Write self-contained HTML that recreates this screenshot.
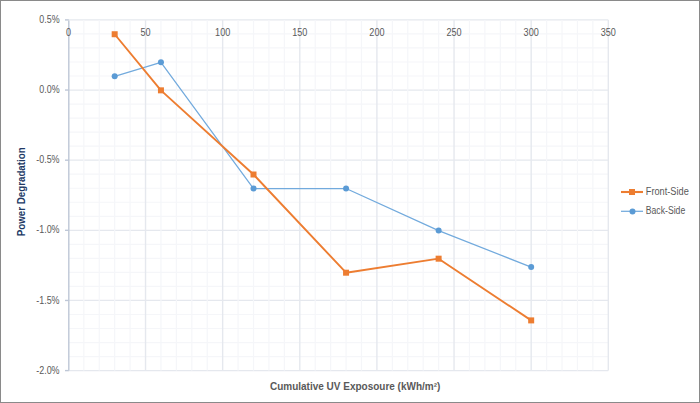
<!DOCTYPE html>
<html><head><meta charset="utf-8"><style>
html,body{margin:0;padding:0;background:#fff;}
body{width:700px;height:403px;overflow:hidden;position:relative;}
.frame{position:absolute;left:0;top:0;width:698px;height:401px;border:1px solid #8a8a8a;}
svg{position:absolute;left:0;top:0;}
.lab{font-family:"Liberation Sans",sans-serif;font-size:10.0px;fill:#595959;}
.ttl{font-family:"Liberation Sans",sans-serif;font-size:10.1px;font-weight:bold;fill:#595959;}
.ttl2{font-family:"Liberation Sans",sans-serif;font-size:10.3px;font-weight:bold;fill:#203864;}
</style></head><body>
<div class="frame"></div>
<svg width="700" height="403" viewBox="0 0 700 403">
<line x1="68.4" y1="33.93" x2="608.3" y2="33.93" stroke="#F5F6F9" stroke-width="1.2"/>
<line x1="68.4" y1="47.96" x2="608.3" y2="47.96" stroke="#F5F6F9" stroke-width="1.2"/>
<line x1="68.4" y1="61.98" x2="608.3" y2="61.98" stroke="#F5F6F9" stroke-width="1.2"/>
<line x1="68.4" y1="76.01" x2="608.3" y2="76.01" stroke="#F5F6F9" stroke-width="1.2"/>
<line x1="68.4" y1="104.07" x2="608.3" y2="104.07" stroke="#F5F6F9" stroke-width="1.2"/>
<line x1="68.4" y1="118.10" x2="608.3" y2="118.10" stroke="#F5F6F9" stroke-width="1.2"/>
<line x1="68.4" y1="132.12" x2="608.3" y2="132.12" stroke="#F5F6F9" stroke-width="1.2"/>
<line x1="68.4" y1="146.15" x2="608.3" y2="146.15" stroke="#F5F6F9" stroke-width="1.2"/>
<line x1="68.4" y1="174.21" x2="608.3" y2="174.21" stroke="#F5F6F9" stroke-width="1.2"/>
<line x1="68.4" y1="188.24" x2="608.3" y2="188.24" stroke="#F5F6F9" stroke-width="1.2"/>
<line x1="68.4" y1="202.26" x2="608.3" y2="202.26" stroke="#F5F6F9" stroke-width="1.2"/>
<line x1="68.4" y1="216.29" x2="608.3" y2="216.29" stroke="#F5F6F9" stroke-width="1.2"/>
<line x1="68.4" y1="244.35" x2="608.3" y2="244.35" stroke="#F5F6F9" stroke-width="1.2"/>
<line x1="68.4" y1="258.38" x2="608.3" y2="258.38" stroke="#F5F6F9" stroke-width="1.2"/>
<line x1="68.4" y1="272.40" x2="608.3" y2="272.40" stroke="#F5F6F9" stroke-width="1.2"/>
<line x1="68.4" y1="286.43" x2="608.3" y2="286.43" stroke="#F5F6F9" stroke-width="1.2"/>
<line x1="68.4" y1="314.49" x2="608.3" y2="314.49" stroke="#F5F6F9" stroke-width="1.2"/>
<line x1="68.4" y1="328.52" x2="608.3" y2="328.52" stroke="#F5F6F9" stroke-width="1.2"/>
<line x1="68.4" y1="342.54" x2="608.3" y2="342.54" stroke="#F5F6F9" stroke-width="1.2"/>
<line x1="68.4" y1="356.57" x2="608.3" y2="356.57" stroke="#F5F6F9" stroke-width="1.2"/>
<line x1="68.4" y1="19.90" x2="608.3" y2="19.90" stroke="#E5E8EE" stroke-width="1.3"/>
<line x1="68.4" y1="90.04" x2="608.3" y2="90.04" stroke="#E5E8EE" stroke-width="1.3"/>
<line x1="68.4" y1="160.18" x2="608.3" y2="160.18" stroke="#E5E8EE" stroke-width="1.3"/>
<line x1="68.4" y1="230.32" x2="608.3" y2="230.32" stroke="#E5E8EE" stroke-width="1.3"/>
<line x1="68.4" y1="300.46" x2="608.3" y2="300.46" stroke="#E5E8EE" stroke-width="1.3"/>
<line x1="68.4" y1="370.60" x2="608.3" y2="370.60" stroke="#E5E8EE" stroke-width="1.3"/>
<line x1="83.83" y1="19.9" x2="83.83" y2="370.6" stroke="#F5F6F9" stroke-width="1.2"/>
<line x1="99.25" y1="19.9" x2="99.25" y2="370.6" stroke="#F5F6F9" stroke-width="1.2"/>
<line x1="114.68" y1="19.9" x2="114.68" y2="370.6" stroke="#F5F6F9" stroke-width="1.2"/>
<line x1="130.10" y1="19.9" x2="130.10" y2="370.6" stroke="#F5F6F9" stroke-width="1.2"/>
<line x1="160.95" y1="19.9" x2="160.95" y2="370.6" stroke="#F5F6F9" stroke-width="1.2"/>
<line x1="176.38" y1="19.9" x2="176.38" y2="370.6" stroke="#F5F6F9" stroke-width="1.2"/>
<line x1="191.81" y1="19.9" x2="191.81" y2="370.6" stroke="#F5F6F9" stroke-width="1.2"/>
<line x1="207.23" y1="19.9" x2="207.23" y2="370.6" stroke="#F5F6F9" stroke-width="1.2"/>
<line x1="238.08" y1="19.9" x2="238.08" y2="370.6" stroke="#F5F6F9" stroke-width="1.2"/>
<line x1="253.51" y1="19.9" x2="253.51" y2="370.6" stroke="#F5F6F9" stroke-width="1.2"/>
<line x1="268.93" y1="19.9" x2="268.93" y2="370.6" stroke="#F5F6F9" stroke-width="1.2"/>
<line x1="284.36" y1="19.9" x2="284.36" y2="370.6" stroke="#F5F6F9" stroke-width="1.2"/>
<line x1="315.21" y1="19.9" x2="315.21" y2="370.6" stroke="#F5F6F9" stroke-width="1.2"/>
<line x1="330.64" y1="19.9" x2="330.64" y2="370.6" stroke="#F5F6F9" stroke-width="1.2"/>
<line x1="346.06" y1="19.9" x2="346.06" y2="370.6" stroke="#F5F6F9" stroke-width="1.2"/>
<line x1="361.49" y1="19.9" x2="361.49" y2="370.6" stroke="#F5F6F9" stroke-width="1.2"/>
<line x1="392.34" y1="19.9" x2="392.34" y2="370.6" stroke="#F5F6F9" stroke-width="1.2"/>
<line x1="407.77" y1="19.9" x2="407.77" y2="370.6" stroke="#F5F6F9" stroke-width="1.2"/>
<line x1="423.19" y1="19.9" x2="423.19" y2="370.6" stroke="#F5F6F9" stroke-width="1.2"/>
<line x1="438.62" y1="19.9" x2="438.62" y2="370.6" stroke="#F5F6F9" stroke-width="1.2"/>
<line x1="469.47" y1="19.9" x2="469.47" y2="370.6" stroke="#F5F6F9" stroke-width="1.2"/>
<line x1="484.89" y1="19.9" x2="484.89" y2="370.6" stroke="#F5F6F9" stroke-width="1.2"/>
<line x1="500.32" y1="19.9" x2="500.32" y2="370.6" stroke="#F5F6F9" stroke-width="1.2"/>
<line x1="515.75" y1="19.9" x2="515.75" y2="370.6" stroke="#F5F6F9" stroke-width="1.2"/>
<line x1="546.60" y1="19.9" x2="546.60" y2="370.6" stroke="#F5F6F9" stroke-width="1.2"/>
<line x1="562.02" y1="19.9" x2="562.02" y2="370.6" stroke="#F5F6F9" stroke-width="1.2"/>
<line x1="577.45" y1="19.9" x2="577.45" y2="370.6" stroke="#F5F6F9" stroke-width="1.2"/>
<line x1="592.87" y1="19.9" x2="592.87" y2="370.6" stroke="#F5F6F9" stroke-width="1.2"/>
<line x1="145.53" y1="19.9" x2="145.53" y2="370.6" stroke="#E5E8EE" stroke-width="1.4"/>
<line x1="222.66" y1="19.9" x2="222.66" y2="370.6" stroke="#E5E8EE" stroke-width="1.4"/>
<line x1="299.79" y1="19.9" x2="299.79" y2="370.6" stroke="#E5E8EE" stroke-width="1.4"/>
<line x1="376.91" y1="19.9" x2="376.91" y2="370.6" stroke="#E5E8EE" stroke-width="1.4"/>
<line x1="454.04" y1="19.9" x2="454.04" y2="370.6" stroke="#E5E8EE" stroke-width="1.4"/>
<line x1="531.17" y1="19.9" x2="531.17" y2="370.6" stroke="#E5E8EE" stroke-width="1.4"/>
<line x1="608.30" y1="19.9" x2="608.30" y2="370.6" stroke="#E5E8EE" stroke-width="1.4"/>
<line x1="65" y1="19.90" x2="68.8" y2="19.90" stroke="#BEC7D6" stroke-width="1.4"/>
<line x1="65" y1="90.04" x2="68.8" y2="90.04" stroke="#BEC7D6" stroke-width="1.4"/>
<line x1="65" y1="160.18" x2="68.8" y2="160.18" stroke="#BEC7D6" stroke-width="1.4"/>
<line x1="65" y1="230.32" x2="68.8" y2="230.32" stroke="#BEC7D6" stroke-width="1.4"/>
<line x1="65" y1="300.46" x2="68.8" y2="300.46" stroke="#BEC7D6" stroke-width="1.4"/>
<line x1="65" y1="370.60" x2="68.8" y2="370.60" stroke="#BEC7D6" stroke-width="1.4"/>
<line x1="68.8" y1="20.4" x2="68.8" y2="370.6" stroke="#BEC7D6" stroke-width="1.4"/>
<text x="39.30" y="23.00" class="lab" textLength="20.3" lengthAdjust="spacingAndGlyphs">0.5%</text>
<text x="39.30" y="93.14" class="lab" textLength="20.3" lengthAdjust="spacingAndGlyphs">0.0%</text>
<text x="36.20" y="163.28" class="lab" textLength="23.4" lengthAdjust="spacingAndGlyphs">-0.5%</text>
<text x="36.20" y="233.42" class="lab" textLength="23.4" lengthAdjust="spacingAndGlyphs">-1.0%</text>
<text x="36.20" y="303.56" class="lab" textLength="23.4" lengthAdjust="spacingAndGlyphs">-1.5%</text>
<text x="36.20" y="373.70" class="lab" textLength="23.4" lengthAdjust="spacingAndGlyphs">-2.0%</text>
<text x="65.88" y="35.6" class="lab" textLength="5.05" lengthAdjust="spacingAndGlyphs">0</text>
<text x="140.48" y="35.6" class="lab" textLength="10.10" lengthAdjust="spacingAndGlyphs">50</text>
<text x="215.08" y="35.6" class="lab" textLength="15.15" lengthAdjust="spacingAndGlyphs">100</text>
<text x="292.21" y="35.6" class="lab" textLength="15.15" lengthAdjust="spacingAndGlyphs">150</text>
<text x="369.34" y="35.6" class="lab" textLength="15.15" lengthAdjust="spacingAndGlyphs">200</text>
<text x="446.47" y="35.6" class="lab" textLength="15.15" lengthAdjust="spacingAndGlyphs">250</text>
<text x="523.60" y="35.6" class="lab" textLength="15.15" lengthAdjust="spacingAndGlyphs">300</text>
<text x="600.72" y="35.6" class="lab" textLength="15.15" lengthAdjust="spacingAndGlyphs">350</text>
<polyline points="114.68,76.31 160.95,62.28 253.51,188.54 346.06,188.54 438.62,230.62 531.17,267.09" fill="none" stroke="#72AADD" stroke-width="1.25" stroke-linejoin="round"/>
<circle cx="114.68" cy="76.31" r="3" fill="#5B9BD5"/>
<circle cx="160.95" cy="62.28" r="3" fill="#5B9BD5"/>
<circle cx="253.51" cy="188.54" r="3" fill="#5B9BD5"/>
<circle cx="346.06" cy="188.54" r="3" fill="#5B9BD5"/>
<circle cx="438.62" cy="230.62" r="3" fill="#5B9BD5"/>
<circle cx="531.17" cy="267.09" r="3" fill="#5B9BD5"/>
<polyline points="114.68,34.23 160.95,90.34 253.51,174.51 346.06,272.70 438.62,258.68 531.17,320.40" fill="none" stroke="#ED7D31" stroke-width="1.9" stroke-linejoin="round"/>
<rect x="111.68" y="31.23" width="6" height="6" fill="#ED7D31"/>
<rect x="157.95" y="87.34" width="6" height="6" fill="#ED7D31"/>
<rect x="250.51" y="171.51" width="6" height="6" fill="#ED7D31"/>
<rect x="343.06" y="269.70" width="6" height="6" fill="#ED7D31"/>
<rect x="435.62" y="255.68" width="6" height="6" fill="#ED7D31"/>
<rect x="528.17" y="317.40" width="6" height="6" fill="#ED7D31"/>
<line x1="621" y1="192" x2="643" y2="192" stroke="#ED7D31" stroke-width="2.1"/>
<rect x="629" y="189" width="6" height="6" fill="#ED7D31"/>
<text x="645.8" y="194.7" class="lab" textLength="43" lengthAdjust="spacingAndGlyphs">Front-Side</text>
<line x1="621" y1="211.3" x2="643" y2="211.3" stroke="#72AADD" stroke-width="1.25"/>
<circle cx="632.5" cy="211.5" r="3" fill="#5B9BD5"/>
<text x="645.8" y="214.2" class="lab" textLength="39.4" lengthAdjust="spacingAndGlyphs">Back-Side</text>
<text x="270" y="389.6" class="ttl" textLength="170.3" lengthAdjust="spacingAndGlyphs">Cumulative UV Exposoure (kWh/m²)</text>
<text transform="translate(24.7,236.3) rotate(-90)" x="0" y="0" class="ttl2" textLength="89" lengthAdjust="spacingAndGlyphs">Power Degradation</text>
</svg>
</body></html>
